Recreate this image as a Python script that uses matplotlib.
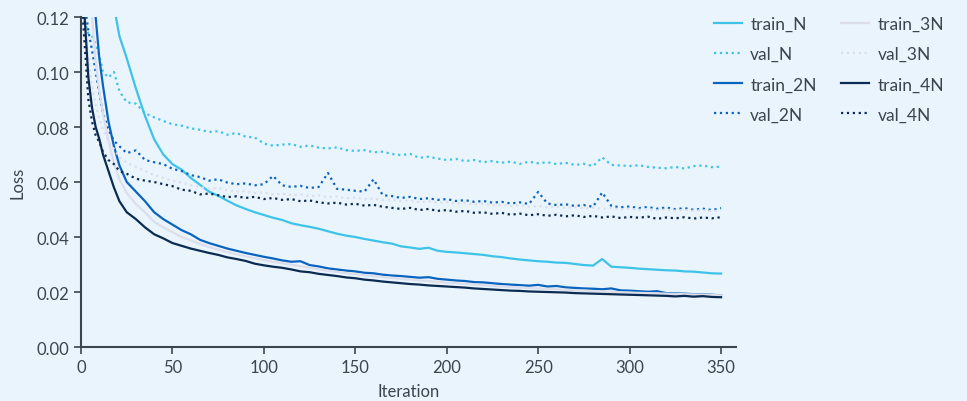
import matplotlib
matplotlib.use("Agg")
import matplotlib.pyplot as plt
from matplotlib.ticker import FormatStrFormatter

iterations = [0, 2, 4, 6, 8, 10, 12, 15, 18, 21, 25] + list(range(30, 351, 5))

train_N = [0.40, 0.33, 0.27, 0.23, 0.20, 0.18, 0.16, 0.14, 0.124, 0.113, 0.105,
           0.094, 0.084, 0.0755, 0.070, 0.0665, 0.0645, 0.0615, 0.0590, 0.0565, 0.0550,
           0.0532, 0.0515, 0.0502, 0.0490, 0.0480, 0.0470, 0.0462, 0.0450, 0.0443, 0.0437,
           0.0430, 0.0421, 0.0412, 0.0405, 0.0400, 0.0393, 0.0387, 0.0381, 0.0376, 0.0366,
           0.0362, 0.0357, 0.0361, 0.0350, 0.0346, 0.0344, 0.0341, 0.0338, 0.0335, 0.0330,
           0.0327, 0.0322, 0.0318, 0.0315, 0.0312, 0.0310, 0.0307, 0.0306, 0.0302, 0.0298,
           0.0296, 0.0320, 0.0292, 0.0290, 0.0288, 0.0285, 0.0283, 0.0281, 0.0279, 0.0278,
           0.0275, 0.0274, 0.0271, 0.0268, 0.0267]
val_N = [0.125, 0.118, 0.114, 0.113, 0.110, 0.106, 0.100, 0.098, 0.100, 0.093, 0.089,
         0.0885, 0.0850, 0.0835, 0.0822, 0.0810, 0.0805, 0.0795, 0.0790, 0.0782, 0.0785,
         0.0772, 0.0778, 0.0765, 0.0762, 0.0740, 0.0732, 0.0736, 0.0738, 0.0728, 0.0733,
         0.0725, 0.0722, 0.0726, 0.0716, 0.0713, 0.0716, 0.0708, 0.0710, 0.0702, 0.0698,
         0.0702, 0.0688, 0.0692, 0.0685, 0.0680, 0.0684, 0.0676, 0.0680, 0.0672, 0.0676,
         0.0670, 0.0674, 0.0666, 0.0674, 0.0668, 0.0672, 0.0665, 0.0670, 0.0662, 0.0666,
         0.0658, 0.0690, 0.0662, 0.0660, 0.0658, 0.0661, 0.0655, 0.0652, 0.0650, 0.0655,
         0.0649, 0.0658, 0.0660, 0.0654, 0.0656]
train_2N = [0.30, 0.22, 0.17, 0.14, 0.12, 0.105, 0.095, 0.082, 0.073, 0.066, 0.060,
            0.0565, 0.0530, 0.0490, 0.0465, 0.0445, 0.0425, 0.0410, 0.0390, 0.0378, 0.0368,
            0.0358, 0.0350, 0.0342, 0.0335, 0.0328, 0.0322, 0.0315, 0.0310, 0.0312, 0.0298,
            0.0293, 0.0286, 0.0282, 0.0278, 0.0275, 0.0270, 0.0268, 0.0263, 0.0260, 0.0258,
            0.0255, 0.0252, 0.0254, 0.0248, 0.0245, 0.0242, 0.0240, 0.0236, 0.0235, 0.0232,
            0.0229, 0.0227, 0.0225, 0.0223, 0.0226, 0.0220, 0.0222, 0.0217, 0.0215, 0.0213,
            0.0212, 0.0210, 0.0213, 0.0206, 0.0205, 0.0203, 0.0201, 0.0203, 0.0196, 0.0195,
            0.0194, 0.0192, 0.0191, 0.0190, 0.0188]
val_2N = [0.150, 0.125, 0.115, 0.108, 0.100, 0.092, 0.085, 0.079, 0.075, 0.073, 0.0705,
          0.0715, 0.0680, 0.0672, 0.0665, 0.0648, 0.0640, 0.0625, 0.0618, 0.0605, 0.0610,
          0.0598, 0.0592, 0.0595, 0.0588, 0.0592, 0.0622, 0.0588, 0.0582, 0.0586, 0.0578,
          0.0582, 0.0633, 0.0575, 0.0572, 0.0568, 0.0565, 0.0610, 0.0552, 0.0549, 0.0542,
          0.0546, 0.0538, 0.0541, 0.0535, 0.0538, 0.0531, 0.0534, 0.0528, 0.0531, 0.0525,
          0.0528, 0.0522, 0.0526, 0.0520, 0.0564, 0.0522, 0.0516, 0.0519, 0.0513, 0.0516,
          0.0510, 0.0562, 0.0513, 0.0508, 0.0511, 0.0505, 0.0509, 0.0503, 0.0507, 0.0501,
          0.0505, 0.0499, 0.0503, 0.0498, 0.0505]
train_3N = [0.28, 0.19, 0.145, 0.12, 0.104, 0.093, 0.085, 0.075, 0.067, 0.061, 0.056,
            0.0520, 0.0490, 0.0455, 0.0435, 0.0418, 0.0400, 0.0388, 0.0375, 0.0364, 0.0354,
            0.0345, 0.0337, 0.0330, 0.0323, 0.0316, 0.0310, 0.0305, 0.0299, 0.0294, 0.0288,
            0.0283, 0.0277, 0.0273, 0.0269, 0.0265, 0.0261, 0.0258, 0.0254, 0.0251, 0.0248,
            0.0245, 0.0242, 0.0240, 0.0237, 0.0234, 0.0232, 0.0229, 0.0227, 0.0225, 0.0222,
            0.0220, 0.0218, 0.0216, 0.0214, 0.0213, 0.0211, 0.0210, 0.0208, 0.0206, 0.0205,
            0.0203, 0.0202, 0.0201, 0.0199, 0.0198, 0.0197, 0.0196, 0.0195, 0.0194, 0.0193,
            0.0192, 0.0191, 0.0190, 0.0189, 0.0188]
val_3N = [0.140, 0.118, 0.105, 0.095, 0.088, 0.083, 0.079, 0.075, 0.072, 0.069, 0.067,
          0.0655, 0.0640, 0.0625, 0.0615, 0.0605, 0.0598, 0.0588, 0.0582, 0.0575, 0.0578,
          0.0570, 0.0565, 0.0568, 0.0560, 0.0563, 0.0555, 0.0558, 0.0552, 0.0555, 0.0548,
          0.0551, 0.0545, 0.0548, 0.0541, 0.0544, 0.0537, 0.0540, 0.0534, 0.0537, 0.0530,
          0.0533, 0.0527, 0.0530, 0.0524, 0.0527, 0.0521, 0.0524, 0.0518, 0.0521, 0.0515,
          0.0518, 0.0513, 0.0516, 0.0510, 0.0513, 0.0508, 0.0511, 0.0506, 0.0509, 0.0504,
          0.0507, 0.0502, 0.0505, 0.0500, 0.0503, 0.0499, 0.0502, 0.0497, 0.0500, 0.0496,
          0.0499, 0.0495, 0.0498, 0.0494, 0.0497]
train_4N = [0.24, 0.12, 0.098, 0.087, 0.080, 0.0756, 0.070, 0.064, 0.058, 0.053, 0.049,
            0.0465, 0.0435, 0.0410, 0.0395, 0.0378, 0.0368, 0.0358, 0.0350, 0.0342, 0.0335,
            0.0326, 0.0320, 0.0313, 0.0303, 0.0297, 0.0292, 0.0288, 0.0282, 0.0275, 0.0272,
            0.0266, 0.0262, 0.0258, 0.0253, 0.0250, 0.0245, 0.0242, 0.0238, 0.0235, 0.0232,
            0.0229, 0.0227, 0.0224, 0.0222, 0.0220, 0.0218, 0.0216, 0.0213, 0.0211, 0.0209,
            0.0207, 0.0205, 0.0204, 0.0202, 0.0201, 0.0200, 0.0199, 0.0198, 0.0196, 0.0195,
            0.0194, 0.0193, 0.0192, 0.0191, 0.0190, 0.0189, 0.0188, 0.0187, 0.0186, 0.0184,
            0.0186, 0.0183, 0.0185, 0.0182, 0.0181]
val_4N = [0.130, 0.110, 0.090, 0.082, 0.077, 0.0745, 0.071, 0.068, 0.0665, 0.064, 0.063,
          0.0612, 0.0605, 0.0600, 0.0592, 0.0585, 0.0572, 0.0568, 0.0555, 0.0558, 0.0552,
          0.0545, 0.0548, 0.0542, 0.0546, 0.0538, 0.0542, 0.0535, 0.0538, 0.0530, 0.0533,
          0.0526, 0.0522, 0.0525, 0.0518, 0.0521, 0.0514, 0.0517, 0.0510, 0.0506, 0.0502,
          0.0506, 0.0498, 0.0502, 0.0495, 0.0498, 0.0492, 0.0495, 0.0488, 0.0490, 0.0484,
          0.0488, 0.0481, 0.0485, 0.0479, 0.0483, 0.0477, 0.0481, 0.0475, 0.0479, 0.0473,
          0.0477, 0.0471, 0.0475, 0.0469, 0.0473, 0.0470, 0.0474, 0.0466, 0.0471, 0.0468,
          0.0472, 0.0467, 0.0471, 0.0468, 0.0472]

series = [
    ("train_N", train_N, "#3ec3e8", "-"),
    ("val_N", val_N, "#3ec3e8", ":"),
    ("train_2N", train_2N, "#0a64bf", "-"),
    ("val_2N", val_2N, "#0a64bf", ":"),
    ("train_3N", train_3N, "#dcdfeb", "-"),
    ("val_3N", val_3N, "#dcdfeb", ":"),
    ("train_4N", train_4N, "#0b2b52", "-"),
    ("val_4N", val_4N, "#0b2b52", ":"),
]

BG = "#eaf4fc"
INK = "#3b4550"


def main():
    plt.rcParams["font.family"] = ["Lato", "DejaVu Sans"]
    fig = plt.figure(figsize=(9.67, 4.02), dpi=100, facecolor=BG)
    ax = fig.add_axes([0.0838, 0.1343, 0.677, 0.8209], facecolor=BG)

    for name, values, color, style in series:
        ax.plot(iterations, values, color=color, linestyle=style, lw=1.6, label=name)

    ax.set_xlim(0, 358)
    ax.set_ylim(0, 0.12)
    ax.set_xticks(range(0, 351, 50))
    ax.set_yticks([0, 0.02, 0.04, 0.06, 0.08, 0.10, 0.12])
    ax.yaxis.set_major_formatter(FormatStrFormatter("%.2f"))

    for side in ["top", "right"]:
        ax.spines[side].set_visible(False)
    for side in ["left", "bottom"]:
        ax.spines[side].set_color(INK)
        ax.spines[side].set_linewidth(1.5)
    ax.tick_params(colors=INK, labelsize=12, length=5, width=1.2)

    ax.set_xlabel("Iteration", fontsize=12, color=INK, labelpad=6)
    ax.set_ylabel("Loss", fontsize=12, color=INK, labelpad=8)

    fig.legend(loc="upper left", bbox_to_anchor=(0.722, 0.997), ncol=2,
               frameon=False, fontsize=12.5, labelcolor=INK, handlelength=1.6,
               handletextpad=0.5, columnspacing=1.4, labelspacing=0.82)

    fig.savefig("out.png", dpi=100, facecolor=BG)


if __name__ == "__main__":
    main()
